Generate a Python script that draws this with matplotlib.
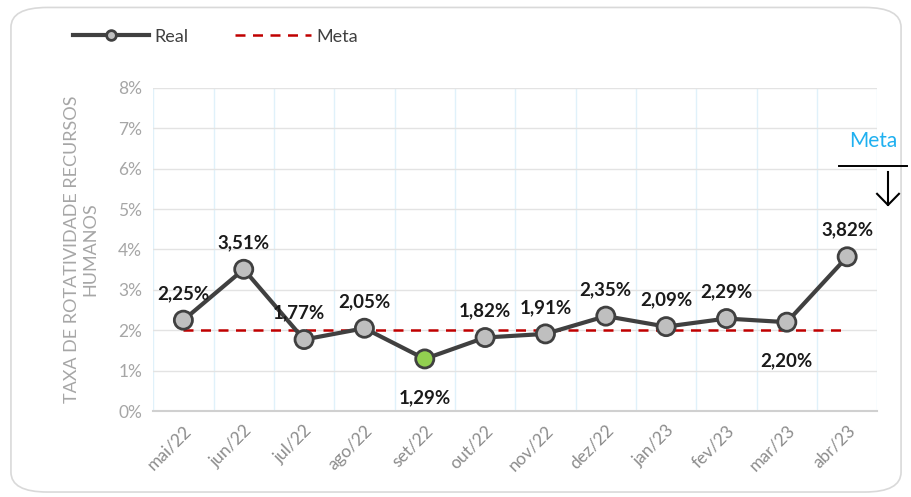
import matplotlib.pyplot as plt
from matplotlib.patches import FancyBboxPatch
from matplotlib.lines import Line2D

meses = ['mai/22', 'jun/22', 'jul/22', 'ago/22', 'set/22', 'out/22',
         'nov/22', 'dez/22', 'jan/23', 'fev/23', 'mar/23', 'abr/23']
real = [2.25, 3.51, 1.77, 2.05, 1.29, 1.82, 1.91, 2.35, 2.09, 2.29, 2.20, 3.82]
meta = [2.0] * 12
# label offsets (points): dx, dy
offsets = [(0, 13), (0, 13), (-4, 13), (0, 13), (0, -22), (0, 13),
           (0, 13), (0, 13), (0, 13), (0, 13), (0, -22), (0, 13)]

plt.rcParams['font.family'] = ['Lato', 'DejaVu Sans']

fig = plt.figure(figsize=(9.12, 4.97), dpi=100)
fig.patches.append(FancyBboxPatch((0.012, 0.01), 0.976, 0.975, boxstyle='round,pad=0,rounding_size=0.04',
                                  transform=fig.transFigure, fill=False, ec='#d9d9d9', lw=1.2))
ax = fig.add_axes([0.168, 0.173, 0.794, 0.65])

x = list(range(len(meses)))
ax.plot(x, meta, ls=(0, (4, 3)), color='#c00000', lw=1.8, zorder=2)
ax.plot(x, real, color='#404040', lw=3, zorder=3)
cores = ['#bfbfbf'] * 12
cores[4] = '#92d050'
ax.scatter(x, real, s=170, c=cores, edgecolors='#404040', linewidths=2, zorder=4)

for i, v in enumerate(real):
    dx, dy = offsets[i]
    ax.annotate(f'{v:.2f}%'.replace('.', ','), (i, v), xytext=(dx, dy), textcoords='offset points',
                ha='center', va='bottom' if dy > 0 else 'top', fontsize=13.5, fontweight='bold', color='#1a1a1a')

ax.set_xlim(-0.5, 11.5)
ax.set_ylim(0, 8)
ax.set_yticks(range(0, 9))
ax.set_yticklabels([f'{i}%' for i in range(0, 9)], color='#a6a6a6', fontsize=12.5)
ax.set_xticks(x)
ax.set_xticklabels(meses, rotation=45, ha='right', rotation_mode='anchor', color='#8c8c8c', fontsize=12.5)
ax.set_xticks([i + 0.5 for i in range(-1, 12)], minor=True)
ax.tick_params(which='both', length=0, pad=8)
ax.grid(axis='y', color='#e3e3e3', lw=1)
ax.grid(axis='x', which='minor', color='#e0f1fa', lw=1)
for s in ['top', 'right', 'left']:
    ax.spines[s].set_visible(False)
ax.spines['bottom'].set_color('#d0d0d0')
ax.spines['bottom'].set_linewidth(1.5)
ax.set_ylabel('TAXA DE ROTATIVIDADE RECURSOS\nHUMANOS', color='#a6a6a6', fontsize=13, labelpad=14)

handles = [Line2D([], [], color='#404040', lw=3, marker='o', markersize=7, markerfacecolor='#bfbfbf',
                  markeredgecolor='#404040', markeredgewidth=2),
           Line2D([], [], color='#c00000', lw=1.8, ls=(0, (4, 3)))]
fig.legend(handles, ['Real', 'Meta'], loc='upper left', bbox_to_anchor=(0.062, 0.975), ncol=2,
           frameon=False, fontsize=13, handlelength=4.2, handletextpad=0.3, columnspacing=2.6,
           labelcolor='#404040')

# "Meta" note with down arrow on the right
fig.text(0.957, 0.705, 'Meta', color='#1fb0f0', fontsize=15, ha='center')
fig.add_artist(Line2D([0.92, 0.995], [0.665, 0.665], color='black', lw=1.4, transform=fig.transFigure))
fig.add_artist(Line2D([0.9737, 0.9737], [0.654, 0.5875], color='black', lw=1.5, transform=fig.transFigure))
fig.add_artist(Line2D([0.9617, 0.9737, 0.9857], [0.610, 0.5875, 0.610], color='black', lw=1.5,
                      transform=fig.transFigure))

fig.savefig('out.png', dpi=100)
